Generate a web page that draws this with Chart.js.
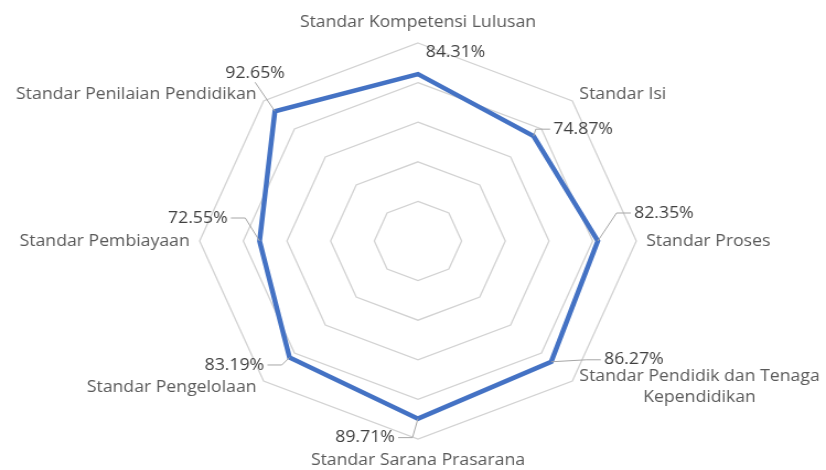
<!DOCTYPE html>
<html>
<head>
<meta charset="utf-8">
<script src="https://cdn.jsdelivr.net/npm/chart.js@4/dist/chart.umd.min.js"></script>
<style>
  html, body { margin: 0; padding: 0; background: #fff; }
  #radar { display: block; }
</style>
</head>
<body>
<!-- drawn at 749px wide, then shown at 826px: the reference is stretched sideways -->
<canvas id="radar" width="749" height="470" style="width:826px;height:470px"></canvas>
<script>
const categories = [
    'Standar Kompetensi Lulusan',
    'Standar Isi',
    'Standar Proses',
    ['Standar Pendidik dan Tenaga', 'Kependidikan'],
    'Standar Sarana Prasarana',
    'Standar Pengelolaan',
    'Standar Pembiayaan',
    'Standar Penilaian Pendidikan'
];
const values = [84.31, 74.87, 82.35, 86.27, 89.71, 83.19, 72.55, 92.65];
const gridSteps = [0, 20, 40, 60, 80, 100];

// where each value label sits, relative to its point (px)
const labelOffsets = [[34, -22], [45, -7], [60, -28], [75, -2], [-48, 19], [-50, 7.5], [-56, -23], [-18, -38]];
const showLeader = [false, true, true, true, true, true, true, true];

const labelFont = '16px "Open Sans"';

const radarLabels = {
    id: 'radarLabels',
    afterDatasetsDraw(chart) {
        const ctx = chart.ctx;
        const scale = chart.scales.r;
        const meta = chart.getDatasetMeta(0);
        ctx.save();
        ctx.font = labelFont;

        // category labels round the outside
        ctx.fillStyle = '#595959';
        ctx.textBaseline = 'middle';
        categories.forEach(function(cat, i) {
            const lines = Array.isArray(cat) ? cat : [cat];
            const angle = (360 / categories.length) * i;
            const vertical = angle === 0 || angle === 180;
            const pos = scale.getPointPosition(i, scale.drawingArea + (vertical ? 21 : 9));
            const lineH = 21;
            const blockW = Math.max.apply(null, lines.map(l => ctx.measureText(l).width));
            let left;
            if (vertical) left = pos.x - blockW / 2;
            else if (angle < 180) left = pos.x;
            else left = pos.x - blockW;
            ctx.textAlign = 'center';
            lines.forEach(function(line, k) {
                const y = pos.y + (k - (lines.length - 1) / 2) * lineH;
                ctx.fillText(line, left + blockW / 2, y);
            });
        });

        // value labels with leader lines
        meta.data.forEach(function(pt, i) {
            const text = values[i].toFixed(2) + '%';
            const w = ctx.measureText(text).width;
            const cx = pt.x + labelOffsets[i][0];
            const cy = pt.y + labelOffsets[i][1];
            if (showLeader[i]) {
                const dx = cx - pt.x, dy = cy - pt.y;
                let end, elbow;
                if (Math.abs(dy) > Math.abs(dx)) {
                    end = { x: cx, y: cy + (dy < 0 ? 9 : -9) };
                    elbow = end;
                } else {
                    const dir = dx > 0 ? 1 : -1;
                    end = { x: cx - dir * (w / 2 + 3), y: cy };
                    elbow = { x: end.x - dir * 13, y: cy };
                    if ((elbow.x - pt.x) * dir < 0) elbow = { x: pt.x, y: cy };
                }
                ctx.strokeStyle = '#a6a6a6';
                ctx.lineWidth = 1;
                ctx.beginPath();
                ctx.moveTo(pt.x, pt.y);
                ctx.lineTo(elbow.x, elbow.y);
                ctx.lineTo(end.x, end.y);
                ctx.stroke();
            }
            ctx.fillStyle = '#404040';
            ctx.textAlign = 'center';
            ctx.fillText(text, cx, cy);
        });
        ctx.restore();
    }
};

new Chart(document.getElementById('radar'), {
    type: 'radar',
    data: {
        labels: categories,
        datasets: [{
            label: 'Capaian',
            data: values,
            borderColor: '#4472C4',
            borderWidth: 4.5,
            fill: false,
            pointRadius: 0,
            pointHoverRadius: 0
        }]
    },
    options: {
        responsive: false,
        animation: false,
        layout: { padding: { top: 43, bottom: 31, left: 10, right: 0 } },
        plugins: {
            legend: { display: false },
            tooltip: { enabled: false }
        },
        scales: {
            r: {
                min: gridSteps[0],
                max: gridSteps[gridSteps.length - 1],
                ticks: { display: false, stepSize: gridSteps[1] - gridSteps[0] },
                grid: { color: '#d2d2d2', lineWidth: 1.3 },
                angleLines: { display: false },
                pointLabels: { display: false }
            }
        }
    },
    plugins: [radarLabels]
});
</script>
</body>
</html>
